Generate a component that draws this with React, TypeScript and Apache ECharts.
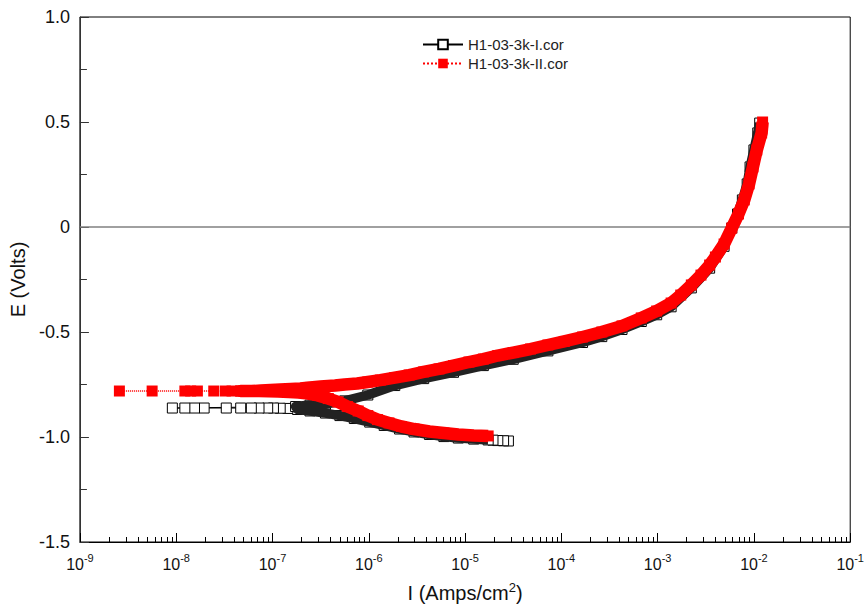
import React, { useEffect, useRef } from 'react';
import * as echarts from 'echarts';

// x tick decades (exponents of 10), y ticks
const xDecades = [-9, -8, -7, -6, -5, -4, -3, -2, -1];
const yMin = -1.5;
const yMax = 1.0;
const yStep = 0.5;

// Series "H1-03-3k-I.cor" (black, hollow squares) — log10(I) and E (V)
const blackCathLogI = [-4.55, -4.60, -4.66, -4.71, -4.76, -4.91, -5.07, -5.22, -5.37, -5.53, -5.68, -5.84, -5.99, -6.15, -6.30, -6.45, -6.61, -6.74];
const blackCathE = [-1.019, -1.018, -1.017, -1.015, -1.014, -1.010, -1.005, -0.998, -0.988, -0.976, -0.962, -0.945, -0.929, -0.912, -0.898, -0.886, -0.876, -0.869];
const blackSpacedLogI = [-6.84, -6.92, -6.99, -7.05, -7.14, -7.22, -7.33, -7.48, -7.71, -7.81, -7.91, -8.04];
const blackSpacedE = [-0.864, -0.863, -0.862, -0.862, -0.862, -0.862, -0.862, -0.862, -0.862, -0.862, -0.862, -0.862];
const blackAnodLogI = [-6.76, -6.61, -6.45, -6.25, -6.01, -5.73, -5.43, -5.12, -4.81, -4.50, -4.14, -3.78, -3.58, -3.37, -3.17, -3.01, -2.86, -2.65, -2.46, -2.31, -2.23, -2.17, -2.12, -2.07, -2.04, -2.00, -1.96, -1.94];
const blackAnodE = [-0.855, -0.848, -0.843, -0.828, -0.800, -0.755, -0.722, -0.692, -0.660, -0.630, -0.590, -0.550, -0.522, -0.488, -0.450, -0.418, -0.380, -0.290, -0.196, -0.092, -0.005, 0.062, 0.129, 0.205, 0.286, 0.367, 0.448, 0.495];

// Series "H1-03-3k-II.cor" (red, filled squares)
const redCathLogI = [-4.76, -4.91, -5.07, -5.22, -5.37, -5.53, -5.66, -5.79, -5.91, -6.01, -6.11, -6.22, -6.32, -6.42, -6.53, -6.63, -6.73, -6.83, -6.94, -7.04, -7.14, -7.24, -7.33];
const redCathE = [-0.995, -0.993, -0.988, -0.981, -0.974, -0.962, -0.950, -0.933, -0.917, -0.898, -0.876, -0.855, -0.833, -0.817, -0.802, -0.793, -0.788, -0.786, -0.783, -0.782, -0.781, -0.781, -0.781];
const redSpacedLogI = [-7.42, -7.49, -7.61, -7.78, -7.85, -7.91, -8.25, -8.59];
const redSpacedE = [-0.781, -0.781, -0.781, -0.781, -0.781, -0.781, -0.781, -0.781];
const redAnodLogI = [-7.33, -7.22, -7.12, -7.02, -6.92, -6.81, -6.71, -6.61, -6.50, -6.35, -6.25, -6.12, -6.01, -5.88, -5.73, -5.58, -5.43, -5.27, -5.12, -4.96, -4.81, -4.66, -4.50, -4.32, -4.14, -3.97, -3.78, -3.58, -3.37, -3.17, -3.01, -2.86, -2.76, -2.65, -2.55, -2.46, -2.40, -2.31, -2.23, -2.16, -2.10, -2.05, -2.01, -1.97, -1.92, -1.91];
const redAnodE = [-0.781, -0.781, -0.779, -0.776, -0.774, -0.771, -0.769, -0.764, -0.760, -0.755, -0.750, -0.745, -0.738, -0.729, -0.717, -0.705, -0.690, -0.676, -0.660, -0.643, -0.629, -0.612, -0.598, -0.581, -0.562, -0.545, -0.524, -0.500, -0.471, -0.433, -0.400, -0.362, -0.324, -0.276, -0.229, -0.181, -0.143, -0.081, -0.005, 0.062, 0.129, 0.205, 0.286, 0.367, 0.448, 0.500];

const nameI = 'H1-03-3k-I.cor';
const nameII = 'H1-03-3k-II.cor';

const FONT = '"Liberation Sans", Arial, Helvetica, sans-serif';

function pts(logI: number[], e: number[]) {
  return logI.map((l, i) => [Math.pow(10, l), e[i]]);
}

export default function App() {
  const ref = useRef<HTMLDivElement>(null);

  useEffect(() => {
    if (!ref.current) return;
    const chart = echarts.init(ref.current, null, { renderer: 'svg' });

    const minorLogTicks: number[] = [];
    for (let i = 0; i < xDecades.length - 1; i++) {
      for (let m = 2; m <= 9; m++) minorLogTicks.push(xDecades[i] + Math.log10(m));
    }

    const blackAll = [
      ...pts(blackCathLogI, blackCathE),
      ...pts(blackSpacedLogI, blackSpacedE),
      ...pts(blackAnodLogI, blackAnodE),
    ];
    const blackBand = [
      ...pts(blackCathLogI.slice(4), blackCathE.slice(4)),
      ...pts(blackAnodLogI, blackAnodE),
    ];
    const redAll = [
      ...pts(redCathLogI, redCathE),
      ...pts(redSpacedLogI, redSpacedE),
      ...pts(redAnodLogI, redAnodE),
    ];
    const redBand = [
      ...pts(redCathLogI, redCathE),
      ...pts(redAnodLogI, redAnodE),
    ];

    const option: any = {
      animation: false,
      backgroundColor: '#ffffff',
      textStyle: { fontFamily: FONT },
      grid: {
        left: 72, right: 16, top: 17, bottom: 69,
        show: true, borderColor: '#000', borderWidth: 1, backgroundColor: 'transparent',
      },
      legend: {
        data: [nameI, nameII],
        orient: 'vertical',
        left: 417,
        top: 32,
        itemWidth: 40,
        itemHeight: 12,
        itemGap: 4,
        formatter: (name: string) => `{t|${name}}`,
        textStyle: {
          fontSize: 15,
          fontFamily: FONT,
          color: '#222',
          rich: { t: { fontSize: 15, lineHeight: 16, fontFamily: FONT, color: '#222' } },
        },
      },
      xAxis: [
        {
          type: 'log',
          logBase: 10,
          min: Math.pow(10, xDecades[0]),
          max: Math.pow(10, xDecades[xDecades.length - 1]),
          splitNumber: xDecades.length - 1,
          position: 'bottom',
          axisLine: { show: true, onZero: false, lineStyle: { color: '#000', width: 1 } },
          axisTick: { show: true, inside: true, length: 9, lineStyle: { color: '#000', width: 1 } },
          splitLine: { show: false },
          axisLabel: {
            margin: 10,
            color: '#111',
            formatter: (v: number) => `{b|10}{s|${Math.round(Math.log10(v))}}`,
            rich: {
              b: { fontSize: 16, fontFamily: FONT, color: '#111', lineHeight: 20, verticalAlign: 'bottom' },
              s: { fontSize: 11, fontFamily: FONT, color: '#111', verticalAlign: 'top' },
            },
          },
          name: 'I (Amps/cm{s|2})',
          nameLocation: 'middle',
          nameGap: 39,
          nameTextStyle: {
            fontSize: 20, fontFamily: FONT, color: '#111', lineHeight: 24,
            rich: { s: { fontSize: 13, fontFamily: FONT, color: '#111', verticalAlign: 'top' } },
          },
        },
        {
          type: 'value',
          min: xDecades[0],
          max: xDecades[xDecades.length - 1],
          position: 'bottom',
          axisLine: { show: false, onZero: false },
          axisLabel: { show: false },
          splitLine: { show: false },
          axisTick: { show: true, inside: true, length: 5, customValues: minorLogTicks, lineStyle: { color: '#000', width: 1 } },
        },
      ],
      yAxis: {
        type: 'value',
        min: yMin,
        max: yMax,
        interval: yStep,
        axisLine: { show: true, onZero: false, lineStyle: { color: '#333', width: 1 } },
        axisTick: { show: true, inside: true, length: 9, lineStyle: { color: '#333' } },
        minorTick: { show: true, splitNumber: 2, length: 7, lineStyle: { color: '#333' } },
        splitLine: { show: false },
        axisLabel: {
          margin: 10,
          fontSize: 18,
          fontFamily: FONT,
          color: '#111',
          formatter: (v: number) => (Math.abs(v) < 1e-9 ? '0' : v.toFixed(1)),
        },
        name: 'E (Volts)',
        nameLocation: 'middle',
        nameGap: 32,
        nameTextStyle: { fontSize: 20, fontFamily: FONT, color: '#111', lineHeight: 20 },
      },
      series: [
        {
          name: nameI,
          type: 'line',
          xAxisIndex: 0,
          z: 2,
          data: blackAll,
          symbol: 'rect',
          symbolSize: 10,
          showAllSymbol: true,
          itemStyle: { color: '#ffffff', borderColor: '#000', borderWidth: 1 },
          lineStyle: { color: '#000', width: 1, type: 'solid' },
          silent: true,
          markLine: {
            silent: true,
            symbol: 'none',
            label: { show: false },
            lineStyle: { color: '#808080', width: 1.5, type: 'solid' },
            data: [{ yAxis: 0 }],
          },
        },
        {
          name: 'bandI',
          type: 'line',
          xAxisIndex: 0,
          z: 3,
          data: blackBand,
          symbol: 'none',
          showSymbol: false,
          lineStyle: { color: '#222222', width: 9.5, join: 'round', cap: 'butt' },
          silent: true,
        },
        {
          name: nameII,
          type: 'line',
          xAxisIndex: 0,
          z: 4,
          data: redAll,
          symbol: 'rect',
          symbolSize: 11,
          showAllSymbol: true,
          itemStyle: { color: '#ff0000', borderColor: '#ff0000', borderWidth: 0 },
          lineStyle: { color: '#ff0000', width: 1, type: 'dotted' },
          silent: true,
        },
        {
          name: 'bandII',
          type: 'line',
          xAxisIndex: 0,
          z: 5,
          data: redBand,
          symbol: 'none',
          showSymbol: false,
          lineStyle: { color: '#ff0000', width: 12.5, join: 'round', cap: 'butt' },
          silent: true,
        },
      ],
    };

    chart.setOption(option);
    return () => chart.dispose();
  }, []);

  return (
    <div
      ref={ref}
      style={{ position: 'fixed', left: 0, top: 0, width: 867, height: 611, background: '#fff' }}
    />
  );
}
